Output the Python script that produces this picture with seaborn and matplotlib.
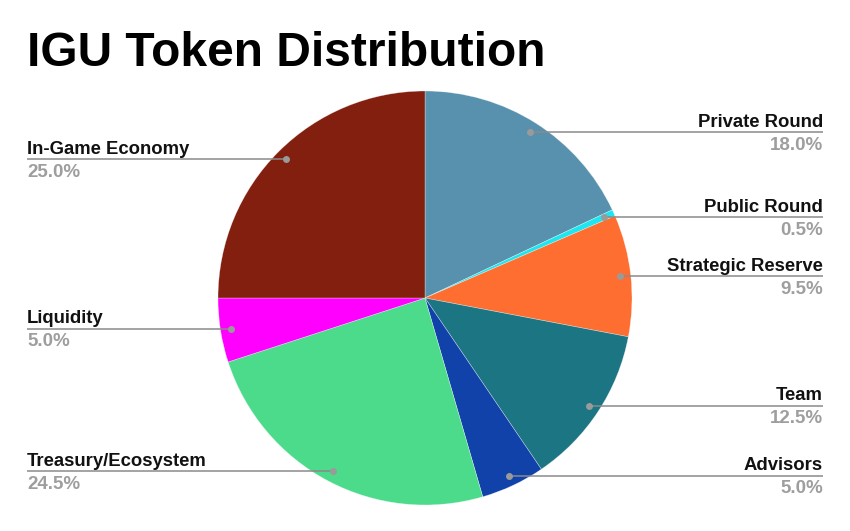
import numpy as np
import matplotlib
matplotlib.use("Agg")
import matplotlib.pyplot as plt
import seaborn as sns

labels = ["Private Round", "Public Round", "Strategic Reserve", "Team",
          "Advisors", "Treasury/Ecosystem", "Liquidity", "In-Game Economy"]
shares = [18.0, 0.5, 9.5, 12.5, 5.0, 24.5, 5.0, 25.0]
colors = ["#5891ad", "#1ee6f0", "#ff6e31", "#1c7583",
          "#1142aa", "#4cdb8b", "#ff00ff", "#831f0e"]

sns.set_theme(style="white")
plt.rcParams["font.family"] = ["Liberation Sans", "DejaVu Sans"]

W, H = 850, 531
fig = plt.figure(figsize=(W / 100, H / 100), dpi=100)
ax = fig.add_axes([0, 0, 1, 1])

cx, cy, R = 425, H - 298, 207
ax.pie(shares, colors=colors, startangle=90, counterclock=False,
       center=(cx, cy), radius=R,
       wedgeprops=dict(edgecolor=(1, 1, 1, 0.5), linewidth=0.4))
ax.set_xlim(0, W)
ax.set_ylim(0, H)
ax.set_aspect("auto")
ax.axis("off")

fig.text(27 / W, 1 - 66 / H, "IGU Token Distribution", fontsize=34.5,
         fontweight="bold", color="black", ha="left", va="baseline")

# leader lines and labels
cum = np.cumsum(shares) - np.array(shares) / 2
for name, val, c in zip(labels, shares, cum):
    ang = np.deg2rad(90 - c / 100 * 360)
    px = cx + 0.948 * R * np.cos(ang)
    py = cy + 0.948 * R * np.sin(ang)
    if px >= cx:
        xe, ha = 823, "right"
    else:
        xe, ha = 27, "left"
    ax.plot([px, xe], [py, py], color="#8a8a8a", lw=1.1, solid_capstyle="butt")
    ax.plot(px, py, "o", color="#9a9a9a", ms=5, mec="none")
    ax.text(xe, py + 5.5, name, fontsize=13.3, fontweight="bold",
            color="#111111", ha=ha, va="baseline")
    ax.text(xe, py - 4.5, f"{val:.1f}%", fontsize=13.5, fontweight="bold",
            color="#9e9e9e", ha=ha, va="top")

fig.savefig("out.png", dpi=100, facecolor="white")
